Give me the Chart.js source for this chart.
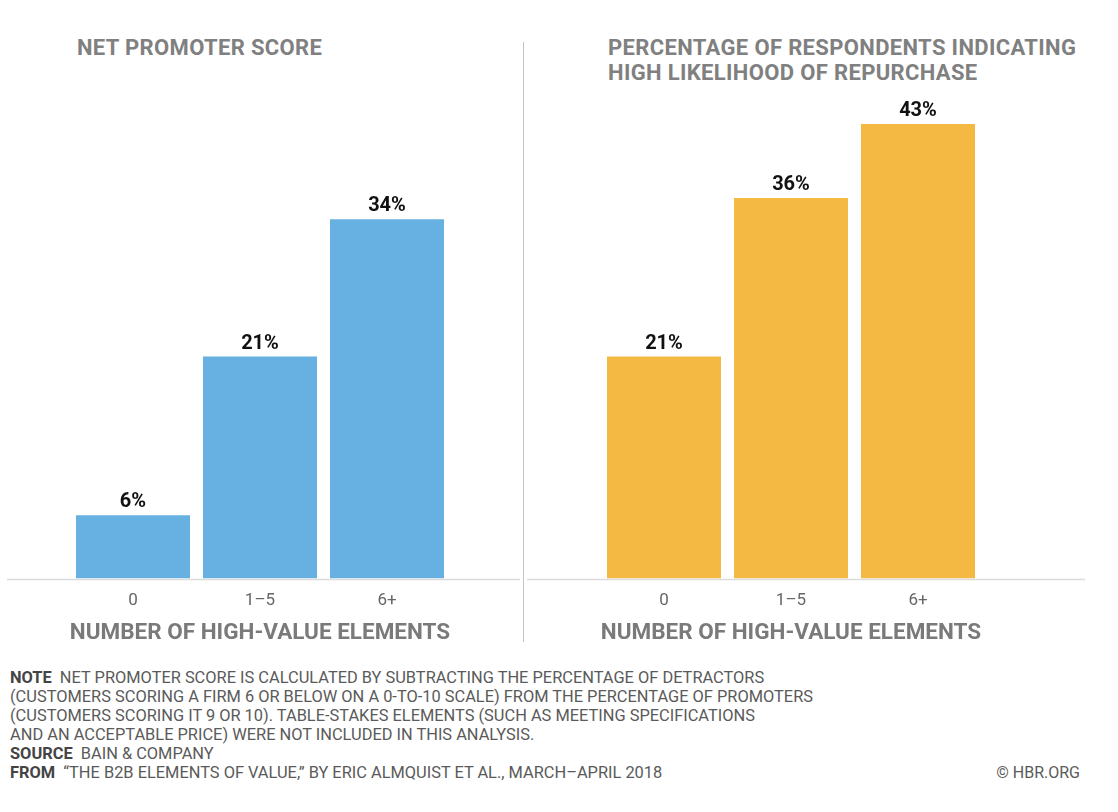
<!DOCTYPE html>
<html>
<head>
<meta charset="utf-8">
<script src="https://cdn.jsdelivr.net/npm/chart.js@4.4.1/dist/chart.umd.min.js"></script>
<style>
   body { margin: 0; background: #fff; font-family: Roboto, "Noto Sans", sans-serif; }
   #page { position: relative; width: 1118px; height: 812px; overflow: hidden; }
   .title { position: absolute; font-weight: 700; font-size: 22px; line-height: 25px; color: #808080; letter-spacing: 0.35px; }
   .divider { position: absolute; left: 523px; top: 42px; width: 1px; height: 600px; background: #c4c4c4; }
   canvas { position: absolute; top: 0; }
   #notes { position: absolute; left: 10px; top: 669px; font-size: 16.4px; line-height: 18.9px; color: #5a5a5a; }
   #notes b { color: #444; }
   #credit { position: absolute; right: 38px; top: 763px; font-size: 16px; color: #5a5a5a; }
</style>
</head>
<body>
<div id="page">
   <div class="title" style="left:77px; top:35px;">NET PROMOTER SCORE</div>
   <div class="title" style="left:608px; top:35px;">PERCENTAGE OF RESPONDENTS INDICATING<br>HIGH LIKELIHOOD OF REPURCHASE</div>
   <div class="divider"></div>
   <canvas id="chartNps" style="left:0px;"></canvas>
   <canvas id="chartRepurchase" style="left:524px;"></canvas>
   <div id="notes">
      <b>NOTE</b>&nbsp; NET PROMOTER SCORE IS CALCULATED BY SUBTRACTING THE PERCENTAGE OF DETRACTORS<br>
      (CUSTOMERS SCORING A FIRM 6 OR BELOW ON A 0-TO-10 SCALE) FROM THE PERCENTAGE OF PROMOTERS<br>
      (CUSTOMERS SCORING IT 9 OR 10). TABLE-STAKES ELEMENTS (SUCH AS MEETING SPECIFICATIONS<br>
      AND AN ACCEPTABLE PRICE) WERE NOT INCLUDED IN THIS ANALYSIS.<br>
      <b>SOURCE</b>&nbsp; BAIN &amp; COMPANY<br>
      <b>FROM</b>&nbsp; “THE B2B ELEMENTS OF VALUE,” BY ERIC ALMQUIST ET AL., MARCH–APRIL 2018
   </div>
   <div id="credit">© HBR.ORG</div>
</div>

<script>
// chart data
const categories = ["0", "1–5", "6+"];
const npsValues = [6, 21, 34];
const repurchaseValues = [21, 36, 43];
const axisTitle = "NUMBER OF HIGH-VALUE ELEMENTS";

// draws the "34%" labels above the bars and the long grey baseline
const barLabels = {
   id: "barLabels",
   afterDatasetsDraw(chart, args, opts) {
      const ctx = chart.ctx;
      const meta = chart.getDatasetMeta(0);
      const values = chart.data.datasets[0].data;
      ctx.save();
      ctx.font = "bold 20px Roboto, sans-serif";
      ctx.fillStyle = "#111";
      ctx.textAlign = "center";
      ctx.textBaseline = "bottom";
      meta.data.forEach((bar, i) => {
         ctx.fillText(values[i] + "%", bar.x, bar.y - 3);
      });
      // baseline
      const y = chart.scales.y.getPixelForValue(0) + 1;
      ctx.strokeStyle = "#dcdcdc";
      ctx.lineWidth = 1.5;
      ctx.beginPath();
      ctx.moveTo(opts.lineStart, y);
      ctx.lineTo(opts.lineEnd, y);
      ctx.stroke();
      ctx.restore();
   }
};

function makeChart(id, width, values, color, padLeft, padRight, lineStart, lineEnd) {
   const canvas = document.getElementById(id);
   canvas.width = width;
   canvas.height = 662;
   canvas.style.width = width + "px";
   canvas.style.height = "662px";
   return new Chart(canvas.getContext("2d"), {
      type: "bar",
      data: {
         labels: categories,
         datasets: [{
            data: values,
            backgroundColor: color,
            borderWidth: 0,
            categoryPercentage: 1,
            barPercentage: 114 / 127
         }]
      },
      options: {
         responsive: false,
         animation: false,
         events: [],
         layout: { padding: { top: 50, left: padLeft, right: padRight, bottom: 11 } },
         plugins: {
            legend: { display: false },
            tooltip: { enabled: false },
            barLabels: { lineStart: lineStart, lineEnd: lineEnd }
         },
         scales: {
            y: { display: false, min: 0, max: 50 },
            x: {
               grid: { display: false },
               border: { display: false },
               ticks: { color: "#666", padding: 4, font: { family: "Roboto", size: 17 } },
               title: {
                  display: true,
                  text: axisTitle,
                  color: "#7a7a7a",
                  padding: { top: 5, bottom: 4 },
                  font: { family: "Roboto", size: 22.5, weight: "bold" }
               }
            }
         }
      },
      plugins: [barLabels]
   });
}

makeChart("chartNps", 524, npsValues, "#66b1e1", 69.5, 73.5, 7, 520);
makeChart("chartRepurchase", 594, repurchaseValues, "#f4b942", 76.5, 136.5, 3, 561);
</script>
</body>
</html>
